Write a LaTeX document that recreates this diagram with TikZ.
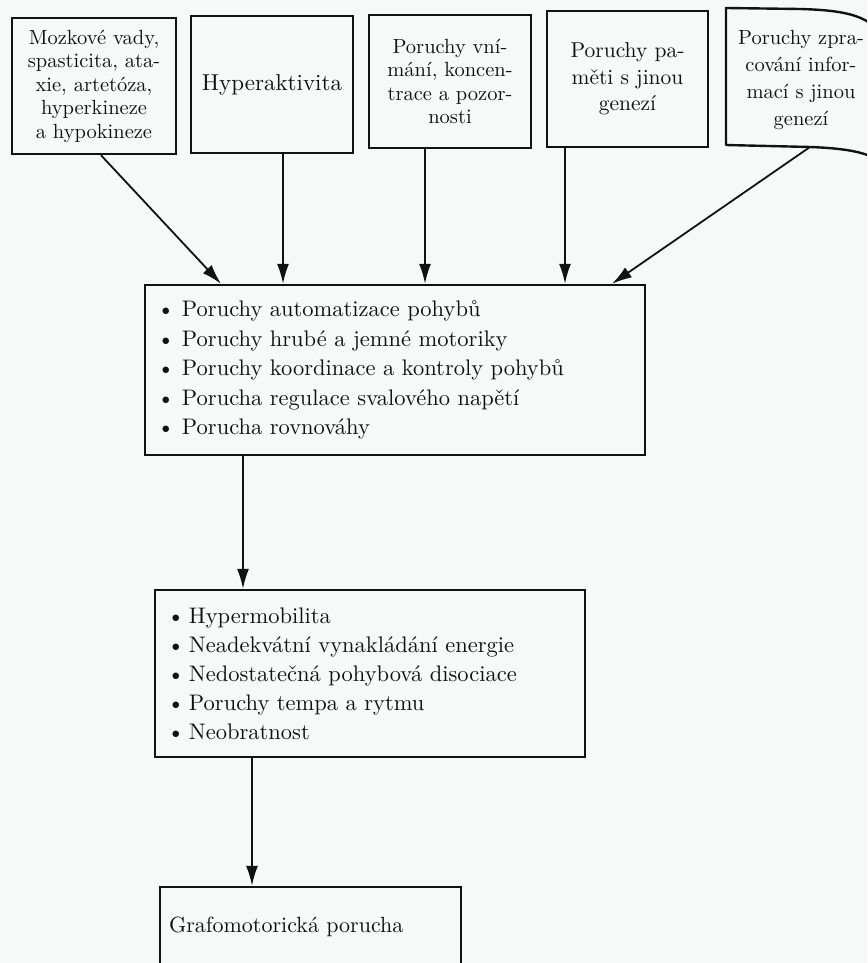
\documentclass[tikz,border=0pt]{standalone}
\usepackage{fontspec}
\setmainfont{lmroman10-regular}[Extension=.otf, BoldFont=lmroman10-bold]
\usetikzlibrary{arrows.meta,calc}
\definecolor{paper}{RGB}{247,248,248}
\definecolor{ink}{RGB}{18,18,18}
\newcommand\myitem[1]{\makebox[#1][l]{\textbullet}}
\tikzset{
  topbox/.style={draw=ink, line width=2.4pt, align=center, inner sep=0pt, text=ink,
    font=\fontsize{20.5}{23.5}\selectfont},
  listbox/.style={draw=ink, line width=2.4pt, align=left, inner xsep=12pt, inner ysep=0pt, text=ink,
    font=\fontsize{22.5}{29.5}\selectfont},
  arr/.style={draw=ink, line width=1.8pt, -{Latex[length=20pt,width=12pt]}}
}
\begin{document}
\begin{tikzpicture}[x=1pt,y=-1pt]
\clip (0,0) rectangle (867,963);
\fill[paper] (0,0) rectangle (867,963);

% top row
\node[topbox, minimum width=164pt, minimum height=136pt, text width=160pt] (b1) at (94,86)
  {Mozkové vady,\\spasticita, ata-\\xie, artetóza,\\hyperkineze\\a hypokineze};
\node[topbox, minimum width=162pt, minimum height=137pt, text width=158pt,
  font=\fontsize{23}{23.5}\selectfont] (b2) at (272,84.5)
  {Hyperaktivita};
\node[topbox, minimum width=162pt, minimum height=133pt, text width=158pt] (b3) at (450,81.5)
  {Poruchy vní-\\mání, koncen-\\trace a pozor-\\nosti};
\node[topbox, minimum width=161pt, minimum height=136pt, text width=157pt,
  font=\fontsize{21.5}{26.5}\selectfont] (b4) at (627.5,79)
  {Poruchy pa-\\měti s jinou\\genezí};
\node[topbox, draw=none, text width=150pt, font=\fontsize{20.5}{27}\selectfont] (b5) at (801,80)
  {Poruchy zpra-\\cování infor-\\mací s jinou\\genezí};
% curled outline of the fifth box
\draw[ink, line width=2.4pt, line join=round]
  (870,156) .. controls (855,150) and (835,148) .. (810,147) -- (726,145) -- (726,8) -- (800,9)
  .. controls (838,10) and (856,14) .. (870,23);
\coordinate (b5s) at (810,147);

% main list box
\node[listbox, minimum width=500pt, minimum height=170pt, text width=476pt] (m) at (395,370)
  {\myitem{25pt}Poruchy automatizace pohybů\\
   \myitem{25pt}Poruchy hrubé a jemné motoriky\\
   \myitem{25pt}Poruchy koordinace a kontroly pohybů\\
   \myitem{25pt}Porucha regulace svalového napětí\\
   \myitem{25pt}Porucha rovnováhy};

% second list box
\node[listbox, minimum width=430pt, minimum height=167pt, text width=406pt,
  font=\fontsize{22.5}{29}\selectfont] (s) at (370,673.5)
  {\myitem{22pt}Hypermobilita\\
   \myitem{22pt}Neadekvátní vynakládání energie\\
   \myitem{22pt}Nedostatečná pohybová disociace\\
   \myitem{22pt}Poruchy tempa a rytmu\\
   \myitem{22pt}Neobratnost};

% third box
\node[listbox, inner xsep=9pt, minimum width=301pt, minimum height=79pt, text width=283pt,
  font=\fontsize{22}{26}\selectfont] (t) at (310.5,926.5)
  {Grafomotorická porucha};

% connectors
\draw[arr] ([xshift=7pt]b1.south) -- ([xshift=-174pt]m.north);
\draw[arr] ([xshift=11pt]b2.south) -- ([xshift=-112pt]m.north);
\draw[arr] ([xshift=-25pt]b3.south) -- ([xshift=30pt]m.north);
\draw[arr] ([xshift=-62.5pt]b4.south) -- ([xshift=170pt]m.north);
\draw[arr] (b5s) -- ([xshift=217pt]m.north);
\draw[arr] ([xshift=-152pt]m.south) -- ([xshift=-127pt]s.north);
\draw[arr] ([xshift=-118pt]s.south) -- ([xshift=-58.5pt]t.north);
\end{tikzpicture}
\end{document}
